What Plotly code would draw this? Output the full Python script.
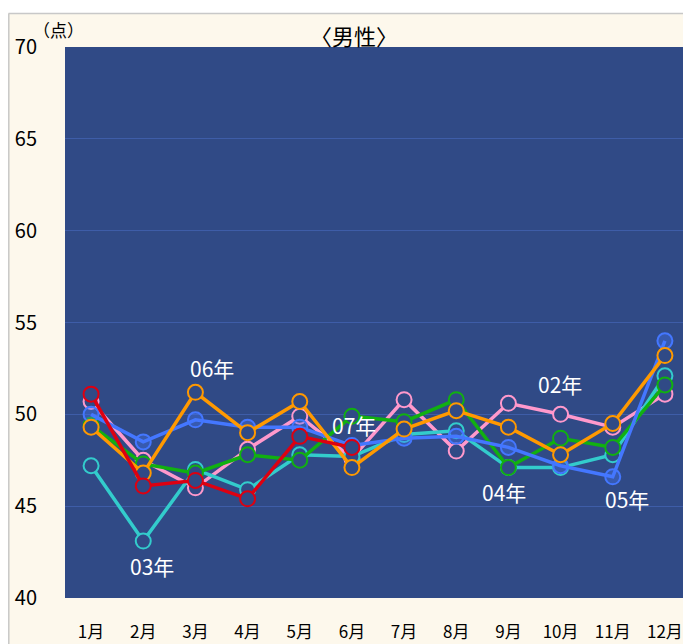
import plotly.graph_objects as go

months = ["1月", "2月", "3月", "4月", "5月", "6月", "7月", "8月", "9月", "10月", "11月", "12月"]

y02 = [50.7, 47.5, 46.0, 48.1, 49.9, 47.6, 50.8, 48.0, 50.6, 50.0, 49.3, 51.1]
y03 = [47.2, 43.1, 47.0, 45.9, 47.8, 47.7, 48.9, 49.1, 47.1, 47.1, 47.8, 52.1]
y04 = [49.4, 47.3, 46.8, 47.8, 47.5, 49.9, 49.6, 50.8, 47.1, 48.7, 48.2, 51.6]
y05 = [50.0, 48.5, 49.7, 49.3, 49.3, 48.3, 48.7, 48.8, 48.2, 47.2, 46.6, 54.0]
y06 = [49.3, 46.8, 51.2, 49.0, 50.7, 47.1, 49.2, 50.2, 49.3, 47.8, 49.5, 53.2]
y07 = [51.1, 46.1, 46.4, 45.4, 48.8, 48.2]

series = [
    ("02年", y02, "#FF99CC"),
    ("03年", y03, "#33CCCC"),
    ("04年", y04, "#11B011"),
    ("05年", y05, "#4477FF"),
    ("06年", y06, "#FF9900"),
    ("07年", y07, "#DD0011"),
]

bg = "#304A86"
fig = go.Figure()
for name, ys, col in series:
    fill = "rgba(68,119,255,0.35)" if name == "05年" else bg
    fig.add_trace(go.Scatter(
        x=months[:len(ys)], y=ys, name=name, mode="lines+markers",
        line=dict(color=col, width=3.5),
        marker=dict(size=15, color=fill, line=dict(color=col, width=2)),
    ))

labels = [
    ("06年", 2.32, 52.5), ("07年", 5.04, 49.4), ("03年", 1.17, 41.74),
    ("02年", 8.99, 51.63), ("04年", 7.91, 45.76), ("05年", 10.27, 45.38),
]
for t, xi, yv in labels:
    fig.add_annotation(x=xi, y=yv, xref="x", yref="y", text=t, showarrow=False,
                       xanchor="center", yanchor="middle",
                       font=dict(color="white", size=21, family="Noto Sans CJK JP"))

fig.add_annotation(x=0.4617, y=1.0218, xref="paper", yref="paper", text="〈男性〉",
                   showarrow=False, xanchor="center", yanchor="middle",
                   font=dict(size=22, color="black", family="Noto Sans CJK JP"))
fig.add_annotation(x=-0.0096, y=1.0309, xref="paper", yref="paper", text="（点）",
                   showarrow=False, xanchor="center", yanchor="middle",
                   font=dict(size=17, color="black", family="Noto Sans CJK JP"))

# thin white strip on top and grey frame lines
PH = 551.0
PW = 626.0
fig.add_shape(type="rect", xref="paper", yref="paper", x0=-0.2, x1=1.1, y0=(590 - 5) / PH, y1=1.2,
              fillcolor="white", line=dict(width=0), layer="below")
fig.add_shape(type="line", xref="paper", yref="paper", x0=(0.5 - 57) / PW, x1=1.1,
              y0=(590 - 5.5) / PH, y1=(590 - 5.5) / PH, line=dict(color="#C8C8C8", width=1.5))
fig.add_shape(type="line", xref="paper", yref="paper", x0=(0.8 - 57) / PW, x1=(0.8 - 57) / PW,
              y0=-0.2, y1=(590 - 5.5) / PH, line=dict(color="#C8C8C8", width=1.5))

fig.update_layout(
    width=691, height=644,
    margin=dict(l=57, r=8, t=39, b=54),
    paper_bgcolor="#FDF8EC", plot_bgcolor=bg,
    showlegend=False,
    font=dict(family="Noto Sans CJK JP", color="black"),
    xaxis=dict(type="category", range=[-0.5, 11.5], showgrid=False, zeroline=False,
               tickfont=dict(size=17), ticks="", ticklabelstandoff=22),
    yaxis=dict(range=[40, 70], tickvals=[40, 45, 50, 55, 60, 65, 70], showgrid=True,
               gridcolor="#3E5DA8", gridwidth=1, zeroline=False, ticks="",
               tickfont=dict(size=20), ticklabelstandoff=27),
)

fig.write_html("out.html")
